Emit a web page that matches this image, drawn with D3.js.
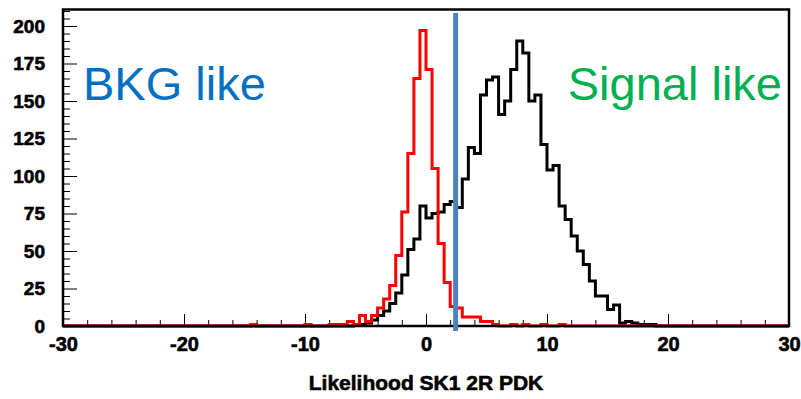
<!DOCTYPE html>
<html>
<head>
<meta charset="utf-8">
<script src="https://cdn.jsdelivr.net/npm/d3@7"></script>
<style>
  body { margin: 0; background: #fff; }
  svg { display: block; font-family: "Liberation Sans", Arial, sans-serif; }
</style>
</head>
<body>
<svg id="chart" width="801" height="399"></svg>
<script>
// bins of width 0.5 from -30 to 30 (120 bins), left edges
var binLo = -30, binW = 0.5;

// red histogram (background)
var redCounts = [
  0,0,0,0,0,0,0,0,0,0, 0,0,0,0,0,0,0,0,0,0,
  0,0,0,0,0,0,0,0,0,0, 0,1,0,0,0,0,0,0,0,0,
  1,0,0,0,1,1,1,3,1,7, 3,7,12,18,27,47,76,115,165,197,
  171,105,55,29,13,12,6,6,6,3, 3,1,0,0,1,0,1,0,0,1,
  0,0,1,0,0,0,0,0,0,0, 0,0,0,0,0,0,0,0,0,0,
  0,0,0,0,0,0,0,0,0,0, 0,0,0,0,0,0,0,0,0,0
];

// black histogram (signal)
var blackCounts = [
  0,0,0,0,0,0,0,0,0,0, 0,0,0,0,0,0,0,0,0,0,
  0,0,0,0,0,0,0,0,0,0, 0,0,0,0,0,0,0,0,0,0,
  0,0,0,0,0,0,0,0,1,1, 2,4,7,10,15,22,34,51,58,80,
  72,75,76,81,83,79,98,119,115,154, 164,166,141,150,171,190,182,150,154,121,
  104,107,80,71,60,50,41,30,20,20, 11,14,2,3,2,1,1,1,0,0,
  0,0,0,0,0,0,0,0,0,0, 0,0,0,0,0,0,0,0,0,0
];

var cutValue = 2.45;
var xTicks = [-30, -20, -10, 0, 10, 20, 30];
var yTicks = [0, 25, 50, 75, 100, 125, 150, 175, 200];

var svg = d3.select("#chart");
var plotL = 63, plotR = 789, plotT = 9.5, plotB = 326;

var x = d3.scaleLinear().domain([-30, 30]).range([plotL, plotR]);
var y = d3.scaleLinear().domain([0, 211]).range([plotB, plotT]);

function toPoints(counts) {
  var pts = counts.map(function(c, i) { return [binLo + i * binW, c]; });
  pts.push([binLo + counts.length * binW, counts[counts.length - 1]]);
  return pts;
}

var line = d3.line()
  .x(function(d) { return x(d[0]); })
  .y(function(d) { return y(d[1]); })
  .curve(d3.curveStepAfter);

function plain(d) { return String(d); }

// heavy label look
function heavy(sel, size) {
  sel.attr("fill", "#000")
    .attr("stroke", "#000")
    .attr("stroke-width", 0.6)
    .style("font-size", size)
    .style("font-weight", "bold")
    .style("font-family", "'Liberation Sans', Arial, sans-serif");
}

// minor ticks
var xMinor = d3.range(-30, 31, 2).filter(function(v) { return v % 10 !== 0; });
var yMinor = d3.range(0, 211, 5).filter(function(v) { return v % 25 !== 0; });

svg.append("g")
  .attr("transform", "translate(0," + plotB + ")")
  .call(d3.axisBottom(x).tickValues(xMinor).tickSize(-6).tickFormat(""))
  .call(function(g) { g.select(".domain").remove(); g.selectAll("line").attr("stroke", "#000"); });

svg.append("g")
  .attr("transform", "translate(" + plotL + ",0)")
  .call(d3.axisLeft(y).tickValues(yMinor).tickSize(-7).tickFormat(""))
  .call(function(g) { g.select(".domain").remove(); g.selectAll("line").attr("stroke", "#000"); });

// major ticks + labels
var xAxis = svg.append("g")
  .attr("transform", "translate(0," + plotB + ")")
  .call(d3.axisBottom(x).tickValues(xTicks).tickSize(-12).tickPadding(11).tickFormat(plain));
xAxis.select(".domain").remove();
xAxis.selectAll("line").attr("stroke", "#000");
xAxis.selectAll("text").call(heavy, "20px");

var yAxis = svg.append("g")
  .attr("transform", "translate(" + plotL + ",0)")
  .call(d3.axisLeft(y).tickValues(yTicks).tickSize(-14).tickPadding(18).tickFormat(plain));
yAxis.select(".domain").remove();
yAxis.selectAll("line").attr("stroke", "#000");
yAxis.selectAll("text").call(heavy, "19px");

// histograms
svg.append("path")
  .datum(toPoints(blackCounts))
  .attr("d", line)
  .attr("fill", "none")
  .attr("stroke", "#000")
  .attr("stroke-width", 3);

svg.append("path")
  .datum(toPoints(redCounts))
  .attr("d", line)
  .attr("fill", "none")
  .attr("stroke", "#ff0000")
  .attr("stroke-width", 3);

// frame
svg.append("rect")
  .attr("x", plotL).attr("y", plotT)
  .attr("width", plotR - plotL).attr("height", plotB - plotT)
  .attr("fill", "none")
  .attr("stroke", "#000")
  .attr("stroke-width", 2.5);

// cut line
svg.append("line")
  .attr("x1", x(cutValue)).attr("x2", x(cutValue))
  .attr("y1", 13).attr("y2", 331)
  .attr("stroke", "#4f81bd")
  .attr("stroke-width", 5);

// region labels
svg.append("text")
  .attr("x", 83).attr("y", 100)
  .attr("fill", "#0070c0")
  .style("font-size", "47px")
  .text("BKG like");

svg.append("text")
  .attr("x", 782).attr("y", 100)
  .attr("text-anchor", "end")
  .attr("fill", "#00b050")
  .style("font-size", "47px")
  .text("Signal like");

// axis title
svg.append("text")
  .attr("x", x(0)).attr("y", 390)
  .attr("text-anchor", "middle")
  .call(heavy, "21px")
  .text("Likelihood SK1 2R PDK");
</script>
</body>
</html>
